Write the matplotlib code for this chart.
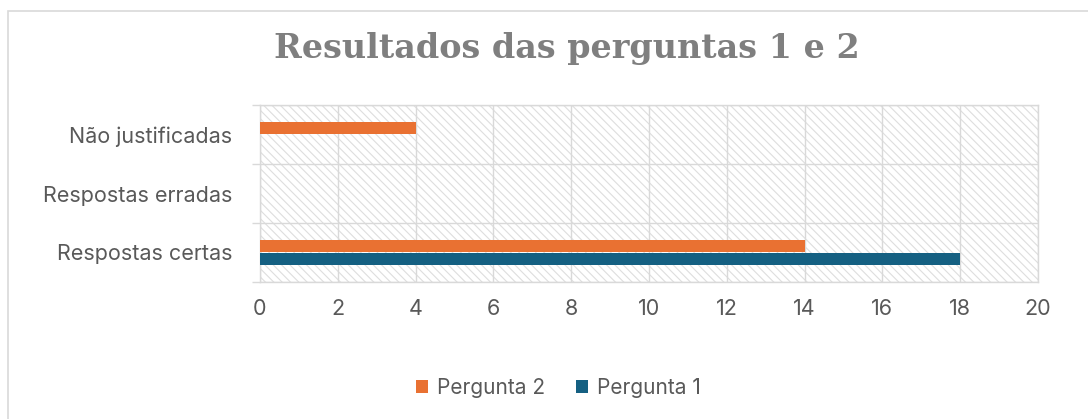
import numpy as np
import matplotlib.pyplot as plt
from matplotlib.patches import Rectangle

# dados do gráfico
categorias = ['Respostas certas', 'Respostas erradas', 'Não justificadas']
pergunta1 = [18, 0, 0]
pergunta2 = [14, 0, 4]
ticks_x = list(range(0, 21, 2))

laranja = '#E97132'
azul = '#156082'
cinza_grelha = '#d9d9d9'
cinza_texto = '#595959'

plt.rcParams['hatch.color'] = '#dedede'
plt.rcParams['hatch.linewidth'] = 0.8

fig = plt.figure(figsize=(10.88, 4.19), dpi=100)
ax = fig.add_axes([260/1088, 1 - 282/419, (1038 - 260)/1088, (282 - 105)/419])

# moldura exterior do gráfico (cortada à direita e em baixo)
fig.patches.append(Rectangle((8/1088, -0.1), 1.2, 1 - 11/419 + 0.1,
                             transform=fig.transFigure, fill=False,
                             edgecolor='#d9d9d9', linewidth=1.2))

# fundo tracejado da área de desenho
ax.add_patch(Rectangle((0, 0), 1, 1, transform=ax.transAxes, facecolor='white',
                       hatch='\\\\\\\\', edgecolor='#dedede', linewidth=0, zorder=0))

y = np.arange(len(categorias))
h = 0.21
ax.barh(y - h/2, pergunta1, height=h, color=azul, label='Pergunta 1', zorder=3)
ax.barh(y + h/2, pergunta2, height=h, color=laranja, label='Pergunta 2', zorder=3)

ax.set_xlim(0, 20)
ax.set_ylim(-0.5, 2.5)
ax.set_xticks(ticks_x)
ax.set_yticks(y)
ax.set_yticklabels(categorias)
ax.set_yticks([-0.5, 0.5, 1.5, 2.5], minor=True)

ax.grid(axis='x', color=cinza_grelha, linewidth=1, zorder=1)
ax.grid(axis='y', which='minor', color=cinza_grelha, linewidth=1, zorder=1)
ax.grid(axis='y', which='major', visible=False)
ax.set_axisbelow(True)

for s in ax.spines.values():
    s.set_color(cinza_grelha)
    s.set_linewidth(1)

fonte = 'Inter'
tam = 15.5
ax.tick_params(axis='x', length=0, pad=12, labelsize=tam, labelcolor=cinza_texto)
ax.tick_params(axis='y', which='major', length=0, pad=20, labelsize=tam, labelcolor=cinza_texto)
ax.tick_params(axis='y', which='minor', length=6, color=cinza_grelha, width=1)
for lbl in ax.get_xticklabels() + ax.get_yticklabels():
    lbl.set_fontfamily(fonte)

fig.text(0.521, 0.885, 'Resultados das perguntas 1 e 2', ha='center', va='center',
         fontsize=24, fontweight='bold', color='#7f7f7f', family='DejaVu Serif')

handles, labels = ax.get_legend_handles_labels()
leg = fig.legend(handles[::-1], labels[::-1], loc='center', bbox_to_anchor=(0.513, 0.074),
                 ncol=2, frameon=False, handlelength=0.6, handleheight=0.6,
                 columnspacing=1.5, handletextpad=0.4,
                 prop={'family': fonte, 'size': 15})
for t in leg.get_texts():
    t.set_color(cinza_texto)

fig.savefig('out.png', dpi=100)
